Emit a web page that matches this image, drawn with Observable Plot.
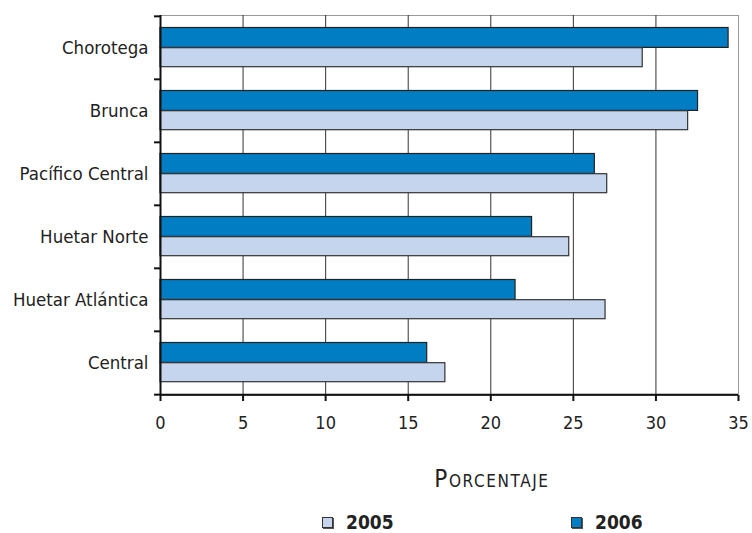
<!DOCTYPE html>
<html>
<head>
<meta charset="utf-8">
<script src="https://cdn.jsdelivr.net/npm/d3@7"></script>
<script src="https://cdn.jsdelivr.net/npm/@observablehq/plot@0.6"></script>
<style>
  html, body { margin: 0; background: #fff; overflow: hidden; }
  #wrap { position: relative; width: 752px; height: 533px; overflow: hidden; font-family: "DejaVu Sans Condensed", "DejaVu Sans", sans-serif; color: #222; }
  #chart svg { display: block; }
  #xlabel { position: absolute; left: 0; width: 1000px; top: 465px; line-height: 28px; text-align: center; font-size: 24px; font-variant: small-caps; letter-spacing: 1.6px; }
  #legend { position: absolute; top: 513px; left: 0; width: 752px; height: 19px; font-size: 19px; line-height: 19px; font-weight: bold; }
  .item { position: absolute; top: 0; display: flex; align-items: center; }
  .sw { display: inline-block; width: 9px; height: 9px; border: 1px solid #333; margin-right: 13px; box-shadow: 1px 1px 0 #555; }
</style>
</head>
<body>
<div id="wrap">
  <div id="chart"></div>
  <div id="xlabel">Porcentaje</div>
  <div id="legend"></div>
</div>
<script>
const regions = ["Chorotega", "Brunca", "Pacífico Central", "Huetar Norte", "Huetar Atlántica", "Central"];
const v2006 = [34.4, 32.55, 26.3, 22.5, 21.5, 16.15];
const v2005 = [29.2, 31.95, 27.05, 24.75, 26.95, 17.25];
const years = ["2005", "2006"];
const colors = ["#c5d5ee", "#007dc3"];
const xTicks = [0, 5, 10, 15, 20, 25, 30, 35];
const gridTicks = [5, 10, 15, 20, 25, 30];

const rows = [];
regions.forEach((r, i) => {
  rows.push({region: r, year: "2006", value: v2006[i]});
  rows.push({region: r, year: "2005", value: v2005[i]});
});

const mTop = 15, mBottom = 40, H = 435;
const band = (H - mTop - mBottom) / regions.length;
const font = '"DejaVu Sans Condensed", "DejaVu Sans", sans-serif';

const chart = Plot.plot({
  width: 752,
  height: H,
  marginTop: mTop,
  marginBottom: mBottom,
  marginLeft: 160,
  marginRight: 14,
  style: {fontFamily: font, color: "#222", background: "#fff"},
  x: {domain: [0, 35], ticks: xTicks},
  y: {domain: regions, padding: 0},
  marks: [
    Plot.frame({stroke: "#999"}),
    Plot.ruleX(gridTicks, {stroke: "#333", strokeWidth: 1}),
    Plot.barX(rows.filter(d => d.year === "2006"), {y: "region", x: "value", fill: colors[1], stroke: "#222", strokeWidth: 1.2, insetTop: 11.5, insetBottom: 31.6}),
    Plot.barX(rows.filter(d => d.year === "2005"), {y: "region", x: "value", fill: colors[0], stroke: "#333", strokeWidth: 1.2, insetTop: 31.7, insetBottom: 12.3}),
    Plot.ruleX([0], {stroke: "#111", strokeWidth: 2}),
    Plot.ruleY([regions[regions.length - 1]], {dy: band / 2, stroke: "#111", strokeWidth: 2}),
    Plot.axisY({tickSize: 0, tickPadding: 12, fontSize: 18.5, label: null}),
    Plot.axisY({tickSize: 6, text: null, dy: -band / 2, stroke: "#111", strokeWidth: 2, label: null}),
    Plot.axisY([regions[regions.length - 1]], {tickSize: 6, text: null, dy: band / 2, stroke: "#111", strokeWidth: 2, label: null}),
    Plot.axisX({ticks: xTicks, tickSize: 6, tickPadding: 15, fontSize: 18, stroke: "#111", strokeWidth: 2, label: null})
  ]
});
document.getElementById("chart").appendChild(chart);

const xl = document.getElementById("xlabel");
xl.style.left = (492 - 500) + "px";

const legend = document.getElementById("legend");
const lefts = [322, 571];
years.forEach((y, i) => {
  const it = document.createElement("div");
  it.className = "item";
  it.style.left = lefts[i] + "px";
  it.innerHTML = `<span class="sw" style="background:${colors[i]}"></span><span>${y}</span>`;
  legend.appendChild(it);
});
</script>
</body>
</html>
